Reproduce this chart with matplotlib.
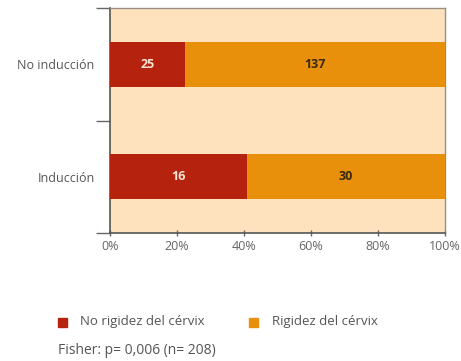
import matplotlib
matplotlib.use("Agg")
import matplotlib.pyplot as plt
from matplotlib.patches import Rectangle

categories = ["Inducción", "No inducción"]
no_rigidez_pct = [41.0, 22.5]
rigidez_pct = [59.0, 77.5]
no_rigidez_n = [16, 25]
rigidez_n = [30, 137]
series_names = ["No rigidez del cérvix", "Rigidez del cérvix"]
xticks = [0, 20, 40, 60, 80, 100]
xtick_labels = ["0%", "20%", "40%", "60%", "80%", "100%"]
note = "Fisher: p= 0,006 (n= 208)"

red = "#B5220E"
orange = "#E8900B"
bg = "#FDE2BD"
txt = "#555555"

plt.rcParams['font.family'] = ['Open Sans', 'DejaVu Sans']

fig = plt.figure(figsize=(4.61, 3.61), dpi=100)
ax = fig.add_axes([110/461, 1-233/361, 335/461, 225/361])
ax.set_facecolor(bg)

y = list(range(len(categories)))
ax.barh(y, no_rigidez_pct, height=0.4, color=red, zorder=3)
ax.barh(y, rigidez_pct, left=no_rigidez_pct, height=0.4, color=orange, zorder=3)

for i in y:
    ax.text(no_rigidez_pct[i] / 2, i, str(no_rigidez_n[i]), ha='center', va='center',
            color='#fbe6d6', fontsize=9, fontweight='bold', zorder=4)
    ax.text(no_rigidez_pct[i] + rigidez_pct[i] / 2, i, str(rigidez_n[i]), ha='center',
            va='center', color='#3a2a10', fontsize=9, fontweight='bold', zorder=4)

ax.set_xlim(0, 100)
ax.set_ylim(-0.5, 1.5)
ax.set_xticks(xticks)
ax.set_xticklabels(xtick_labels, fontsize=9, color='#666666')
ax.set_yticks([-0.5, 0.5, 1.5])
ax.set_yticklabels([])
ax.set_yticks(y, minor=True)
ax.set_yticklabels(categories, minor=True, fontsize=9, color=txt)
ax.tick_params(axis='y', which='minor', length=0, pad=11)
ax.tick_params(axis='y', which='major', length=10, color='#666666', width=1)
ax.tick_params(axis='x', length=4, direction='inout', color='#666666', width=1, pad=3)

for s in ['left', 'bottom']:
    ax.spines[s].set_color('#555555')
    ax.spines[s].set_linewidth(1.2)
for s in ['top', 'right']:
    ax.spines[s].set_color('#9a8f80')
    ax.spines[s].set_linewidth(1.0)

# legend
fig.patches.append(Rectangle((58/461, 1-327/361), 9/461, 9/361, transform=fig.transFigure,
                             color=red, figure=fig))
fig.text(80/461, 1-321/361, series_names[0], fontsize=9.5, color=txt, va='center')
fig.patches.append(Rectangle((249/461, 1-327/361), 9/461, 9/361, transform=fig.transFigure,
                             color=orange, figure=fig))
fig.text(272/461, 1-321/361, series_names[1], fontsize=9.5, color=txt, va='center')
fig.text(58/461, 1-351/361, note, fontsize=10, color=txt, va='center')

fig.savefig("out.png", dpi=100)
